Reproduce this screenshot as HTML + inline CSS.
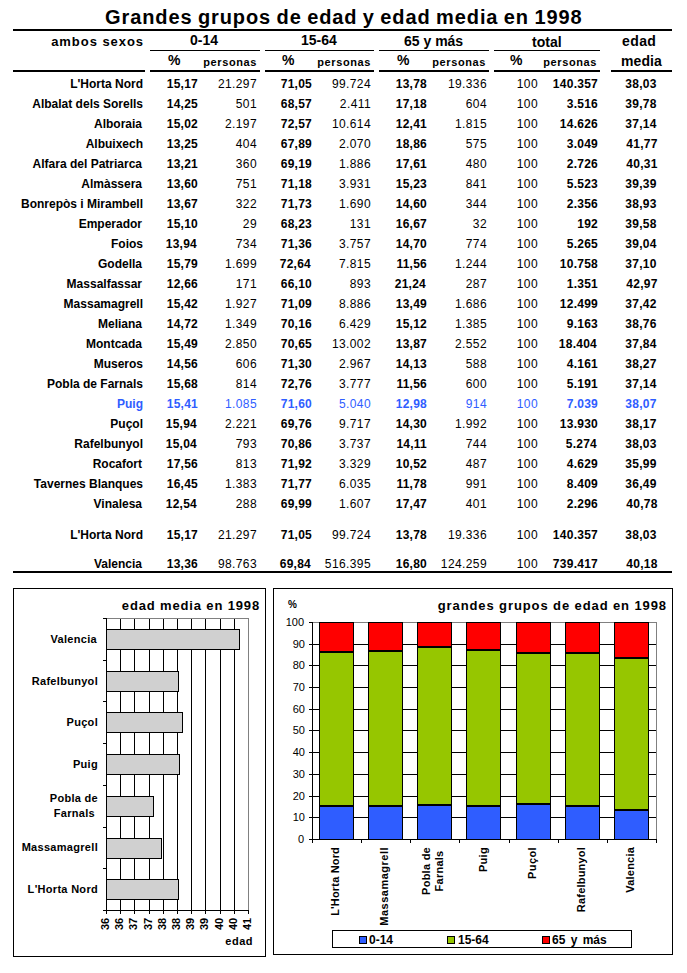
<!DOCTYPE html>
<html><head><meta charset="utf-8">
<style>
html,body{margin:0;padding:0;background:#fff;}
body{width:687px;height:973px;position:relative;overflow:hidden;font-family:"Liberation Sans",sans-serif;color:#000;}
.t{position:absolute;white-space:nowrap;line-height:12px;font-size:12px;}
.b{font-weight:bold;}
.n{font-weight:normal;}
.ln{position:absolute;background:#000;}
.blue{color:#2f5dff;}
.bx{position:absolute;box-sizing:border-box;border:1px solid #000;}
.rot{position:absolute;white-space:nowrap;transform-origin:0 0;transform:rotate(-90deg);font-weight:bold;font-size:11px;line-height:11px;}
</style></head><body>

<div id="e0" class="t b" style="left:105px;top:7px;font-size:20px;line-height:20px;letter-spacing:0.9px;word-spacing:-1px;">Grandes grupos de edad y edad media en 1998</div>
<div class="ln" style="left:13px;width:659px;top:29px;height:2px;background:#000;"></div>
<div class="ln" style="left:150px;width:110px;top:50px;height:1px;background:#000;"></div>
<div class="ln" style="left:265px;width:109px;top:50px;height:1px;background:#000;"></div>
<div class="ln" style="left:379px;width:110px;top:50px;height:1px;background:#000;"></div>
<div class="ln" style="left:494px;width:106px;top:50px;height:1px;background:#000;"></div>
<div class="ln" style="left:13px;width:132px;top:70px;height:2px;background:#000;"></div>
<div class="ln" style="left:150px;width:110px;top:70px;height:2px;background:#000;"></div>
<div class="ln" style="left:265px;width:109px;top:70px;height:2px;background:#000;"></div>
<div class="ln" style="left:379px;width:110px;top:70px;height:2px;background:#000;"></div>
<div class="ln" style="left:494px;width:106px;top:70px;height:2px;background:#000;"></div>
<div class="ln" style="left:611px;width:61px;top:70px;height:2px;background:#000;"></div>
<div class="ln" style="left:13px;width:659px;top:571px;height:2px;background:#000;"></div>
<div id="e1" class="t b" style="right:543px;top:35px;font-size:13px;line-height:13px;letter-spacing:0.95px;">ambos sexos</div>
<div id="e2" class="t b" style="left:190px;top:33px;font-size:14px;line-height:14px;">0-14</div>
<div id="e3" class="t b" style="left:301px;top:33px;font-size:14px;line-height:14px;">15-64</div>
<div id="e4" class="t b" style="left:404px;top:34px;font-size:14px;line-height:14px;">65 y más</div>
<div id="e5" class="t b" style="left:532px;top:35px;font-size:14px;line-height:14px;">total</div>
<div id="e6" class="t b" style="left:622px;top:34px;font-size:14px;line-height:14px;letter-spacing:0.4px;">edad</div>
<div id="e7" class="t b" style="left:621px;top:54px;font-size:14px;line-height:14px;letter-spacing:0.1px;">media</div>
<div id="e8" class="t b" style="left:168px;top:53px;font-size:14px;line-height:14px;">%</div>
<div id="e9" class="t b" style="right:430px;top:57px;font-size:11px;line-height:11px;letter-spacing:0.6px;">personas</div>
<div id="e10" class="t b" style="left:282px;top:53px;font-size:14px;line-height:14px;">%</div>
<div id="e11" class="t b" style="right:316px;top:57px;font-size:11px;line-height:11px;letter-spacing:0.6px;">personas</div>
<div id="e12" class="t b" style="left:397px;top:53px;font-size:14px;line-height:14px;">%</div>
<div id="e13" class="t b" style="right:201px;top:57px;font-size:11px;line-height:11px;letter-spacing:0.6px;">personas</div>
<div id="e14" class="t b" style="left:510px;top:53px;font-size:14px;line-height:14px;">%</div>
<div id="e15" class="t b" style="right:90px;top:57px;font-size:11px;line-height:11px;letter-spacing:0.6px;">personas</div>
<div id="e16" class="t b" style="right:544px;top:78px;font-size:12px;line-height:12px;">L'Horta Nord</div>
<div id="e17" class="t b" style="right:489px;top:78px;font-size:12px;line-height:12px;letter-spacing:0.25px;">15,17</div>
<div id="e18" class="t n" style="right:430px;top:78px;font-size:12px;line-height:12px;letter-spacing:0.4px;">21.297</div>
<div id="e19" class="t b" style="right:375px;top:78px;font-size:12px;line-height:12px;letter-spacing:0.25px;">71,05</div>
<div id="e20" class="t n" style="right:316px;top:78px;font-size:12px;line-height:12px;letter-spacing:0.4px;">99.724</div>
<div id="e21" class="t b" style="right:260px;top:78px;font-size:12px;line-height:12px;letter-spacing:0.25px;">13,78</div>
<div id="e22" class="t n" style="right:200px;top:78px;font-size:12px;line-height:12px;letter-spacing:0.4px;">19.336</div>
<div id="e23" class="t n" style="right:149px;top:78px;font-size:12px;line-height:12px;letter-spacing:0.4px;">100</div>
<div id="e24" class="t b" style="right:89px;top:78px;font-size:12px;line-height:12px;letter-spacing:0.25px;">140.357</div>
<div id="e25" class="t b" style="left:491px;width:300px;text-align:center;top:78px;font-size:12px;line-height:12px;letter-spacing:0.25px;">38,03</div>
<div id="e26" class="t b" style="right:544px;top:98px;font-size:12px;line-height:12px;">Albalat dels Sorells</div>
<div id="e27" class="t b" style="right:489px;top:98px;font-size:12px;line-height:12px;letter-spacing:0.25px;">14,25</div>
<div id="e28" class="t n" style="right:430px;top:98px;font-size:12px;line-height:12px;letter-spacing:0.4px;">501</div>
<div id="e29" class="t b" style="right:375px;top:98px;font-size:12px;line-height:12px;letter-spacing:0.25px;">68,57</div>
<div id="e30" class="t n" style="right:316px;top:98px;font-size:12px;line-height:12px;letter-spacing:0.4px;">2.411</div>
<div id="e31" class="t b" style="right:260px;top:98px;font-size:12px;line-height:12px;letter-spacing:0.25px;">17,18</div>
<div id="e32" class="t n" style="right:200px;top:98px;font-size:12px;line-height:12px;letter-spacing:0.4px;">604</div>
<div id="e33" class="t n" style="right:149px;top:98px;font-size:12px;line-height:12px;letter-spacing:0.4px;">100</div>
<div id="e34" class="t b" style="right:89px;top:98px;font-size:12px;line-height:12px;letter-spacing:0.25px;">3.516</div>
<div id="e35" class="t b" style="left:491px;width:300px;text-align:center;top:98px;font-size:12px;line-height:12px;letter-spacing:0.25px;">39,78</div>
<div id="e36" class="t b" style="right:545px;top:118px;font-size:12px;line-height:12px;">Alboraia</div>
<div id="e37" class="t b" style="right:489px;top:118px;font-size:12px;line-height:12px;letter-spacing:0.25px;">15,02</div>
<div id="e38" class="t n" style="right:430px;top:118px;font-size:12px;line-height:12px;letter-spacing:0.4px;">2.197</div>
<div id="e39" class="t b" style="right:375px;top:118px;font-size:12px;line-height:12px;letter-spacing:0.25px;">72,57</div>
<div id="e40" class="t n" style="right:316px;top:118px;font-size:12px;line-height:12px;letter-spacing:0.4px;">10.614</div>
<div id="e41" class="t b" style="right:260px;top:118px;font-size:12px;line-height:12px;letter-spacing:0.25px;">12,41</div>
<div id="e42" class="t n" style="right:200px;top:118px;font-size:12px;line-height:12px;letter-spacing:0.4px;">1.815</div>
<div id="e43" class="t n" style="right:149px;top:118px;font-size:12px;line-height:12px;letter-spacing:0.4px;">100</div>
<div id="e44" class="t b" style="right:89px;top:118px;font-size:12px;line-height:12px;letter-spacing:0.25px;">14.626</div>
<div id="e45" class="t b" style="left:491px;width:300px;text-align:center;top:118px;font-size:12px;line-height:12px;letter-spacing:0.25px;">37,14</div>
<div id="e46" class="t b" style="right:544px;top:138px;font-size:12px;line-height:12px;">Albuixech</div>
<div id="e47" class="t b" style="right:489px;top:138px;font-size:12px;line-height:12px;letter-spacing:0.25px;">13,25</div>
<div id="e48" class="t n" style="right:430px;top:138px;font-size:12px;line-height:12px;letter-spacing:0.4px;">404</div>
<div id="e49" class="t b" style="right:375px;top:138px;font-size:12px;line-height:12px;letter-spacing:0.25px;">67,89</div>
<div id="e50" class="t n" style="right:316px;top:138px;font-size:12px;line-height:12px;letter-spacing:0.4px;">2.070</div>
<div id="e51" class="t b" style="right:260px;top:138px;font-size:12px;line-height:12px;letter-spacing:0.25px;">18,86</div>
<div id="e52" class="t n" style="right:200px;top:138px;font-size:12px;line-height:12px;letter-spacing:0.4px;">575</div>
<div id="e53" class="t n" style="right:149px;top:138px;font-size:12px;line-height:12px;letter-spacing:0.4px;">100</div>
<div id="e54" class="t b" style="right:89px;top:138px;font-size:12px;line-height:12px;letter-spacing:0.25px;">3.049</div>
<div id="e55" class="t b" style="left:492px;width:300px;text-align:center;top:138px;font-size:12px;line-height:12px;letter-spacing:0.25px;">41,77</div>
<div id="e56" class="t b" style="right:545px;top:158px;font-size:12px;line-height:12px;">Alfara del Patriarca</div>
<div id="e57" class="t b" style="right:489px;top:158px;font-size:12px;line-height:12px;letter-spacing:0.25px;">13,21</div>
<div id="e58" class="t n" style="right:430px;top:158px;font-size:12px;line-height:12px;letter-spacing:0.4px;">360</div>
<div id="e59" class="t b" style="right:375px;top:158px;font-size:12px;line-height:12px;letter-spacing:0.25px;">69,19</div>
<div id="e60" class="t n" style="right:316px;top:158px;font-size:12px;line-height:12px;letter-spacing:0.4px;">1.886</div>
<div id="e61" class="t b" style="right:260px;top:158px;font-size:12px;line-height:12px;letter-spacing:0.25px;">17,61</div>
<div id="e62" class="t n" style="right:200px;top:158px;font-size:12px;line-height:12px;letter-spacing:0.4px;">480</div>
<div id="e63" class="t n" style="right:149px;top:158px;font-size:12px;line-height:12px;letter-spacing:0.4px;">100</div>
<div id="e64" class="t b" style="right:89px;top:158px;font-size:12px;line-height:12px;letter-spacing:0.25px;">2.726</div>
<div id="e65" class="t b" style="left:492px;width:300px;text-align:center;top:158px;font-size:12px;line-height:12px;letter-spacing:0.25px;">40,31</div>
<div id="e66" class="t b" style="right:545px;top:178px;font-size:12px;line-height:12px;">Almàssera</div>
<div id="e67" class="t b" style="right:489px;top:178px;font-size:12px;line-height:12px;letter-spacing:0.25px;">13,60</div>
<div id="e68" class="t n" style="right:430px;top:178px;font-size:12px;line-height:12px;letter-spacing:0.4px;">751</div>
<div id="e69" class="t b" style="right:375px;top:178px;font-size:12px;line-height:12px;letter-spacing:0.25px;">71,18</div>
<div id="e70" class="t n" style="right:316px;top:178px;font-size:12px;line-height:12px;letter-spacing:0.4px;">3.931</div>
<div id="e71" class="t b" style="right:260px;top:178px;font-size:12px;line-height:12px;letter-spacing:0.25px;">15,23</div>
<div id="e72" class="t n" style="right:200px;top:178px;font-size:12px;line-height:12px;letter-spacing:0.4px;">841</div>
<div id="e73" class="t n" style="right:149px;top:178px;font-size:12px;line-height:12px;letter-spacing:0.4px;">100</div>
<div id="e74" class="t b" style="right:89px;top:178px;font-size:12px;line-height:12px;letter-spacing:0.25px;">5.523</div>
<div id="e75" class="t b" style="left:491px;width:300px;text-align:center;top:178px;font-size:12px;line-height:12px;letter-spacing:0.25px;">39,39</div>
<div id="e76" class="t b" style="right:544px;top:198px;font-size:12px;line-height:12px;">Bonrepòs i Mirambell</div>
<div id="e77" class="t b" style="right:489px;top:198px;font-size:12px;line-height:12px;letter-spacing:0.25px;">13,67</div>
<div id="e78" class="t n" style="right:430px;top:198px;font-size:12px;line-height:12px;letter-spacing:0.4px;">322</div>
<div id="e79" class="t b" style="right:375px;top:198px;font-size:12px;line-height:12px;letter-spacing:0.25px;">71,73</div>
<div id="e80" class="t n" style="right:316px;top:198px;font-size:12px;line-height:12px;letter-spacing:0.4px;">1.690</div>
<div id="e81" class="t b" style="right:260px;top:198px;font-size:12px;line-height:12px;letter-spacing:0.25px;">14,60</div>
<div id="e82" class="t n" style="right:200px;top:198px;font-size:12px;line-height:12px;letter-spacing:0.4px;">344</div>
<div id="e83" class="t n" style="right:149px;top:198px;font-size:12px;line-height:12px;letter-spacing:0.4px;">100</div>
<div id="e84" class="t b" style="right:89px;top:198px;font-size:12px;line-height:12px;letter-spacing:0.25px;">2.356</div>
<div id="e85" class="t b" style="left:491px;width:300px;text-align:center;top:198px;font-size:12px;line-height:12px;letter-spacing:0.25px;">38,93</div>
<div id="e86" class="t b" style="right:545px;top:218px;font-size:12px;line-height:12px;">Emperador</div>
<div id="e87" class="t b" style="right:489px;top:218px;font-size:12px;line-height:12px;letter-spacing:0.25px;">15,10</div>
<div id="e88" class="t n" style="right:430px;top:218px;font-size:12px;line-height:12px;letter-spacing:0.4px;">29</div>
<div id="e89" class="t b" style="right:375px;top:218px;font-size:12px;line-height:12px;letter-spacing:0.25px;">68,23</div>
<div id="e90" class="t n" style="right:316px;top:218px;font-size:12px;line-height:12px;letter-spacing:0.4px;">131</div>
<div id="e91" class="t b" style="right:260px;top:218px;font-size:12px;line-height:12px;letter-spacing:0.25px;">16,67</div>
<div id="e92" class="t n" style="right:200px;top:218px;font-size:12px;line-height:12px;letter-spacing:0.4px;">32</div>
<div id="e93" class="t n" style="right:149px;top:218px;font-size:12px;line-height:12px;letter-spacing:0.4px;">100</div>
<div id="e94" class="t b" style="right:89px;top:218px;font-size:12px;line-height:12px;letter-spacing:0.25px;">192</div>
<div id="e95" class="t b" style="left:491px;width:300px;text-align:center;top:218px;font-size:12px;line-height:12px;letter-spacing:0.25px;">39,58</div>
<div id="e96" class="t b" style="right:544px;top:238px;font-size:12px;line-height:12px;">Foios</div>
<div id="e97" class="t b" style="right:490px;top:238px;font-size:12px;line-height:12px;letter-spacing:0.25px;">13,94</div>
<div id="e98" class="t n" style="right:430px;top:238px;font-size:12px;line-height:12px;letter-spacing:0.4px;">734</div>
<div id="e99" class="t b" style="right:375px;top:238px;font-size:12px;line-height:12px;letter-spacing:0.25px;">71,36</div>
<div id="e100" class="t n" style="right:316px;top:238px;font-size:12px;line-height:12px;letter-spacing:0.4px;">3.757</div>
<div id="e101" class="t b" style="right:260px;top:238px;font-size:12px;line-height:12px;letter-spacing:0.25px;">14,70</div>
<div id="e102" class="t n" style="right:200px;top:238px;font-size:12px;line-height:12px;letter-spacing:0.4px;">774</div>
<div id="e103" class="t n" style="right:149px;top:238px;font-size:12px;line-height:12px;letter-spacing:0.4px;">100</div>
<div id="e104" class="t b" style="right:89px;top:238px;font-size:12px;line-height:12px;letter-spacing:0.25px;">5.265</div>
<div id="e105" class="t b" style="left:491px;width:300px;text-align:center;top:238px;font-size:12px;line-height:12px;letter-spacing:0.25px;">39,04</div>
<div id="e106" class="t b" style="right:545px;top:258px;font-size:12px;line-height:12px;">Godella</div>
<div id="e107" class="t b" style="right:489px;top:258px;font-size:12px;line-height:12px;letter-spacing:0.25px;">15,79</div>
<div id="e108" class="t n" style="right:430px;top:258px;font-size:12px;line-height:12px;letter-spacing:0.4px;">1.699</div>
<div id="e109" class="t b" style="right:376px;top:258px;font-size:12px;line-height:12px;letter-spacing:0.25px;">72,64</div>
<div id="e110" class="t n" style="right:316px;top:258px;font-size:12px;line-height:12px;letter-spacing:0.4px;">7.815</div>
<div id="e111" class="t b" style="right:260px;top:258px;font-size:12px;line-height:12px;letter-spacing:0.25px;">11,56</div>
<div id="e112" class="t n" style="right:200px;top:258px;font-size:12px;line-height:12px;letter-spacing:0.4px;">1.244</div>
<div id="e113" class="t n" style="right:149px;top:258px;font-size:12px;line-height:12px;letter-spacing:0.4px;">100</div>
<div id="e114" class="t b" style="right:89px;top:258px;font-size:12px;line-height:12px;letter-spacing:0.25px;">10.758</div>
<div id="e115" class="t b" style="left:491px;width:300px;text-align:center;top:258px;font-size:12px;line-height:12px;letter-spacing:0.25px;">37,10</div>
<div id="e116" class="t b" style="right:545px;top:278px;font-size:12px;line-height:12px;">Massalfassar</div>
<div id="e117" class="t b" style="right:489px;top:278px;font-size:12px;line-height:12px;letter-spacing:0.25px;">12,66</div>
<div id="e118" class="t n" style="right:430px;top:278px;font-size:12px;line-height:12px;letter-spacing:0.4px;">171</div>
<div id="e119" class="t b" style="right:375px;top:278px;font-size:12px;line-height:12px;letter-spacing:0.25px;">66,10</div>
<div id="e120" class="t n" style="right:316px;top:278px;font-size:12px;line-height:12px;letter-spacing:0.4px;">893</div>
<div id="e121" class="t b" style="right:261px;top:278px;font-size:12px;line-height:12px;letter-spacing:0.25px;">21,24</div>
<div id="e122" class="t n" style="right:200px;top:278px;font-size:12px;line-height:12px;letter-spacing:0.4px;">287</div>
<div id="e123" class="t n" style="right:149px;top:278px;font-size:12px;line-height:12px;letter-spacing:0.4px;">100</div>
<div id="e124" class="t b" style="right:89px;top:278px;font-size:12px;line-height:12px;letter-spacing:0.25px;">1.351</div>
<div id="e125" class="t b" style="left:492px;width:300px;text-align:center;top:278px;font-size:12px;line-height:12px;letter-spacing:0.25px;">42,97</div>
<div id="e126" class="t b" style="right:544px;top:298px;font-size:12px;line-height:12px;">Massamagrell</div>
<div id="e127" class="t b" style="right:489px;top:298px;font-size:12px;line-height:12px;letter-spacing:0.25px;">15,42</div>
<div id="e128" class="t n" style="right:430px;top:298px;font-size:12px;line-height:12px;letter-spacing:0.4px;">1.927</div>
<div id="e129" class="t b" style="right:375px;top:298px;font-size:12px;line-height:12px;letter-spacing:0.25px;">71,09</div>
<div id="e130" class="t n" style="right:316px;top:298px;font-size:12px;line-height:12px;letter-spacing:0.4px;">8.886</div>
<div id="e131" class="t b" style="right:260px;top:298px;font-size:12px;line-height:12px;letter-spacing:0.25px;">13,49</div>
<div id="e132" class="t n" style="right:200px;top:298px;font-size:12px;line-height:12px;letter-spacing:0.4px;">1.686</div>
<div id="e133" class="t n" style="right:149px;top:298px;font-size:12px;line-height:12px;letter-spacing:0.4px;">100</div>
<div id="e134" class="t b" style="right:89px;top:298px;font-size:12px;line-height:12px;letter-spacing:0.25px;">12.499</div>
<div id="e135" class="t b" style="left:491px;width:300px;text-align:center;top:298px;font-size:12px;line-height:12px;letter-spacing:0.25px;">37,42</div>
<div id="e136" class="t b" style="right:545px;top:318px;font-size:12px;line-height:12px;">Meliana</div>
<div id="e137" class="t b" style="right:489px;top:318px;font-size:12px;line-height:12px;letter-spacing:0.25px;">14,72</div>
<div id="e138" class="t n" style="right:430px;top:318px;font-size:12px;line-height:12px;letter-spacing:0.4px;">1.349</div>
<div id="e139" class="t b" style="right:375px;top:318px;font-size:12px;line-height:12px;letter-spacing:0.25px;">70,16</div>
<div id="e140" class="t n" style="right:316px;top:318px;font-size:12px;line-height:12px;letter-spacing:0.4px;">6.429</div>
<div id="e141" class="t b" style="right:260px;top:318px;font-size:12px;line-height:12px;letter-spacing:0.25px;">15,12</div>
<div id="e142" class="t n" style="right:200px;top:318px;font-size:12px;line-height:12px;letter-spacing:0.4px;">1.385</div>
<div id="e143" class="t n" style="right:149px;top:318px;font-size:12px;line-height:12px;letter-spacing:0.4px;">100</div>
<div id="e144" class="t b" style="right:89px;top:318px;font-size:12px;line-height:12px;letter-spacing:0.25px;">9.163</div>
<div id="e145" class="t b" style="left:491px;width:300px;text-align:center;top:318px;font-size:12px;line-height:12px;letter-spacing:0.25px;">38,76</div>
<div id="e146" class="t b" style="right:545px;top:338px;font-size:12px;line-height:12px;">Montcada</div>
<div id="e147" class="t b" style="right:489px;top:338px;font-size:12px;line-height:12px;letter-spacing:0.25px;">15,49</div>
<div id="e148" class="t n" style="right:430px;top:338px;font-size:12px;line-height:12px;letter-spacing:0.4px;">2.850</div>
<div id="e149" class="t b" style="right:375px;top:338px;font-size:12px;line-height:12px;letter-spacing:0.25px;">70,65</div>
<div id="e150" class="t n" style="right:316px;top:338px;font-size:12px;line-height:12px;letter-spacing:0.4px;">13.002</div>
<div id="e151" class="t b" style="right:260px;top:338px;font-size:12px;line-height:12px;letter-spacing:0.25px;">13,87</div>
<div id="e152" class="t n" style="right:200px;top:338px;font-size:12px;line-height:12px;letter-spacing:0.4px;">2.552</div>
<div id="e153" class="t n" style="right:149px;top:338px;font-size:12px;line-height:12px;letter-spacing:0.4px;">100</div>
<div id="e154" class="t b" style="right:90px;top:338px;font-size:12px;line-height:12px;letter-spacing:0.25px;">18.404</div>
<div id="e155" class="t b" style="left:491px;width:300px;text-align:center;top:338px;font-size:12px;line-height:12px;letter-spacing:0.25px;">37,84</div>
<div id="e156" class="t b" style="right:544px;top:358px;font-size:12px;line-height:12px;">Museros</div>
<div id="e157" class="t b" style="right:489px;top:358px;font-size:12px;line-height:12px;letter-spacing:0.25px;">14,56</div>
<div id="e158" class="t n" style="right:430px;top:358px;font-size:12px;line-height:12px;letter-spacing:0.4px;">606</div>
<div id="e159" class="t b" style="right:375px;top:358px;font-size:12px;line-height:12px;letter-spacing:0.25px;">71,30</div>
<div id="e160" class="t n" style="right:316px;top:358px;font-size:12px;line-height:12px;letter-spacing:0.4px;">2.967</div>
<div id="e161" class="t b" style="right:260px;top:358px;font-size:12px;line-height:12px;letter-spacing:0.25px;">14,13</div>
<div id="e162" class="t n" style="right:200px;top:358px;font-size:12px;line-height:12px;letter-spacing:0.4px;">588</div>
<div id="e163" class="t n" style="right:149px;top:358px;font-size:12px;line-height:12px;letter-spacing:0.4px;">100</div>
<div id="e164" class="t b" style="right:89px;top:358px;font-size:12px;line-height:12px;letter-spacing:0.25px;">4.161</div>
<div id="e165" class="t b" style="left:491px;width:300px;text-align:center;top:358px;font-size:12px;line-height:12px;letter-spacing:0.25px;">38,27</div>
<div id="e166" class="t b" style="right:544px;top:378px;font-size:12px;line-height:12px;">Pobla de Farnals</div>
<div id="e167" class="t b" style="right:489px;top:378px;font-size:12px;line-height:12px;letter-spacing:0.25px;">15,68</div>
<div id="e168" class="t n" style="right:430px;top:378px;font-size:12px;line-height:12px;letter-spacing:0.4px;">814</div>
<div id="e169" class="t b" style="right:375px;top:378px;font-size:12px;line-height:12px;letter-spacing:0.25px;">72,76</div>
<div id="e170" class="t n" style="right:316px;top:378px;font-size:12px;line-height:12px;letter-spacing:0.4px;">3.777</div>
<div id="e171" class="t b" style="right:260px;top:378px;font-size:12px;line-height:12px;letter-spacing:0.25px;">11,56</div>
<div id="e172" class="t n" style="right:200px;top:378px;font-size:12px;line-height:12px;letter-spacing:0.4px;">600</div>
<div id="e173" class="t n" style="right:149px;top:378px;font-size:12px;line-height:12px;letter-spacing:0.4px;">100</div>
<div id="e174" class="t b" style="right:89px;top:378px;font-size:12px;line-height:12px;letter-spacing:0.25px;">5.191</div>
<div id="e175" class="t b" style="left:491px;width:300px;text-align:center;top:378px;font-size:12px;line-height:12px;letter-spacing:0.25px;">37,14</div>
<div id="e176" class="t b blue" style="right:544px;top:398px;font-size:12px;line-height:12px;">Puig</div>
<div id="e177" class="t b blue" style="right:489px;top:398px;font-size:12px;line-height:12px;letter-spacing:0.25px;">15,41</div>
<div id="e178" class="t n blue" style="right:430px;top:398px;font-size:12px;line-height:12px;letter-spacing:0.4px;">1.085</div>
<div id="e179" class="t b blue" style="right:375px;top:398px;font-size:12px;line-height:12px;letter-spacing:0.25px;">71,60</div>
<div id="e180" class="t n blue" style="right:316px;top:398px;font-size:12px;line-height:12px;letter-spacing:0.4px;">5.040</div>
<div id="e181" class="t b blue" style="right:260px;top:398px;font-size:12px;line-height:12px;letter-spacing:0.25px;">12,98</div>
<div id="e182" class="t n blue" style="right:200px;top:398px;font-size:12px;line-height:12px;letter-spacing:0.4px;">914</div>
<div id="e183" class="t n blue" style="right:149px;top:398px;font-size:12px;line-height:12px;letter-spacing:0.4px;">100</div>
<div id="e184" class="t b blue" style="right:89px;top:398px;font-size:12px;line-height:12px;letter-spacing:0.25px;">7.039</div>
<div id="e185" class="t b blue" style="left:491px;width:300px;text-align:center;top:398px;font-size:12px;line-height:12px;letter-spacing:0.25px;">38,07</div>
<div id="e186" class="t b" style="right:544px;top:418px;font-size:12px;line-height:12px;">Puçol</div>
<div id="e187" class="t b" style="right:490px;top:418px;font-size:12px;line-height:12px;letter-spacing:0.25px;">15,94</div>
<div id="e188" class="t n" style="right:430px;top:418px;font-size:12px;line-height:12px;letter-spacing:0.4px;">2.221</div>
<div id="e189" class="t b" style="right:375px;top:418px;font-size:12px;line-height:12px;letter-spacing:0.25px;">69,76</div>
<div id="e190" class="t n" style="right:316px;top:418px;font-size:12px;line-height:12px;letter-spacing:0.4px;">9.717</div>
<div id="e191" class="t b" style="right:260px;top:418px;font-size:12px;line-height:12px;letter-spacing:0.25px;">14,30</div>
<div id="e192" class="t n" style="right:200px;top:418px;font-size:12px;line-height:12px;letter-spacing:0.4px;">1.992</div>
<div id="e193" class="t n" style="right:149px;top:418px;font-size:12px;line-height:12px;letter-spacing:0.4px;">100</div>
<div id="e194" class="t b" style="right:89px;top:418px;font-size:12px;line-height:12px;letter-spacing:0.25px;">13.930</div>
<div id="e195" class="t b" style="left:491px;width:300px;text-align:center;top:418px;font-size:12px;line-height:12px;letter-spacing:0.25px;">38,17</div>
<div id="e196" class="t b" style="right:544px;top:438px;font-size:12px;line-height:12px;">Rafelbunyol</div>
<div id="e197" class="t b" style="right:490px;top:438px;font-size:12px;line-height:12px;letter-spacing:0.25px;">15,04</div>
<div id="e198" class="t n" style="right:430px;top:438px;font-size:12px;line-height:12px;letter-spacing:0.4px;">793</div>
<div id="e199" class="t b" style="right:375px;top:438px;font-size:12px;line-height:12px;letter-spacing:0.25px;">70,86</div>
<div id="e200" class="t n" style="right:316px;top:438px;font-size:12px;line-height:12px;letter-spacing:0.4px;">3.737</div>
<div id="e201" class="t b" style="right:260px;top:438px;font-size:12px;line-height:12px;letter-spacing:0.25px;">14,11</div>
<div id="e202" class="t n" style="right:200px;top:438px;font-size:12px;line-height:12px;letter-spacing:0.4px;">744</div>
<div id="e203" class="t n" style="right:149px;top:438px;font-size:12px;line-height:12px;letter-spacing:0.4px;">100</div>
<div id="e204" class="t b" style="right:90px;top:438px;font-size:12px;line-height:12px;letter-spacing:0.25px;">5.274</div>
<div id="e205" class="t b" style="left:491px;width:300px;text-align:center;top:438px;font-size:12px;line-height:12px;letter-spacing:0.25px;">38,03</div>
<div id="e206" class="t b" style="right:545px;top:458px;font-size:12px;line-height:12px;">Rocafort</div>
<div id="e207" class="t b" style="right:489px;top:458px;font-size:12px;line-height:12px;letter-spacing:0.25px;">17,56</div>
<div id="e208" class="t n" style="right:430px;top:458px;font-size:12px;line-height:12px;letter-spacing:0.4px;">813</div>
<div id="e209" class="t b" style="right:375px;top:458px;font-size:12px;line-height:12px;letter-spacing:0.25px;">71,92</div>
<div id="e210" class="t n" style="right:316px;top:458px;font-size:12px;line-height:12px;letter-spacing:0.4px;">3.329</div>
<div id="e211" class="t b" style="right:260px;top:458px;font-size:12px;line-height:12px;letter-spacing:0.25px;">10,52</div>
<div id="e212" class="t n" style="right:200px;top:458px;font-size:12px;line-height:12px;letter-spacing:0.4px;">487</div>
<div id="e213" class="t n" style="right:149px;top:458px;font-size:12px;line-height:12px;letter-spacing:0.4px;">100</div>
<div id="e214" class="t b" style="right:89px;top:458px;font-size:12px;line-height:12px;letter-spacing:0.25px;">4.629</div>
<div id="e215" class="t b" style="left:491px;width:300px;text-align:center;top:458px;font-size:12px;line-height:12px;letter-spacing:0.25px;">35,99</div>
<div id="e216" class="t b" style="right:544px;top:478px;font-size:12px;line-height:12px;">Tavernes Blanques</div>
<div id="e217" class="t b" style="right:489px;top:478px;font-size:12px;line-height:12px;letter-spacing:0.25px;">16,45</div>
<div id="e218" class="t n" style="right:430px;top:478px;font-size:12px;line-height:12px;letter-spacing:0.4px;">1.383</div>
<div id="e219" class="t b" style="right:375px;top:478px;font-size:12px;line-height:12px;letter-spacing:0.25px;">71,77</div>
<div id="e220" class="t n" style="right:316px;top:478px;font-size:12px;line-height:12px;letter-spacing:0.4px;">6.035</div>
<div id="e221" class="t b" style="right:260px;top:478px;font-size:12px;line-height:12px;letter-spacing:0.25px;">11,78</div>
<div id="e222" class="t n" style="right:200px;top:478px;font-size:12px;line-height:12px;letter-spacing:0.4px;">991</div>
<div id="e223" class="t n" style="right:149px;top:478px;font-size:12px;line-height:12px;letter-spacing:0.4px;">100</div>
<div id="e224" class="t b" style="right:89px;top:478px;font-size:12px;line-height:12px;letter-spacing:0.25px;">8.409</div>
<div id="e225" class="t b" style="left:491px;width:300px;text-align:center;top:478px;font-size:12px;line-height:12px;letter-spacing:0.25px;">36,49</div>
<div id="e226" class="t b" style="right:545px;top:498px;font-size:12px;line-height:12px;">Vinalesa</div>
<div id="e227" class="t b" style="right:490px;top:498px;font-size:12px;line-height:12px;letter-spacing:0.25px;">12,54</div>
<div id="e228" class="t n" style="right:430px;top:498px;font-size:12px;line-height:12px;letter-spacing:0.4px;">288</div>
<div id="e229" class="t b" style="right:375px;top:498px;font-size:12px;line-height:12px;letter-spacing:0.25px;">69,99</div>
<div id="e230" class="t n" style="right:316px;top:498px;font-size:12px;line-height:12px;letter-spacing:0.4px;">1.607</div>
<div id="e231" class="t b" style="right:260px;top:498px;font-size:12px;line-height:12px;letter-spacing:0.25px;">17,47</div>
<div id="e232" class="t n" style="right:200px;top:498px;font-size:12px;line-height:12px;letter-spacing:0.4px;">401</div>
<div id="e233" class="t n" style="right:149px;top:498px;font-size:12px;line-height:12px;letter-spacing:0.4px;">100</div>
<div id="e234" class="t b" style="right:89px;top:498px;font-size:12px;line-height:12px;letter-spacing:0.25px;">2.296</div>
<div id="e235" class="t b" style="left:492px;width:300px;text-align:center;top:498px;font-size:12px;line-height:12px;letter-spacing:0.25px;">40,78</div>
<div id="e236" class="t b" style="right:544px;top:529px;font-size:12px;line-height:12px;">L'Horta Nord</div>
<div id="e237" class="t b" style="right:489px;top:529px;font-size:12px;line-height:12px;letter-spacing:0.25px;">15,17</div>
<div id="e238" class="t n" style="right:430px;top:529px;font-size:12px;line-height:12px;letter-spacing:0.4px;">21.297</div>
<div id="e239" class="t b" style="right:375px;top:529px;font-size:12px;line-height:12px;letter-spacing:0.25px;">71,05</div>
<div id="e240" class="t n" style="right:316px;top:529px;font-size:12px;line-height:12px;letter-spacing:0.4px;">99.724</div>
<div id="e241" class="t b" style="right:260px;top:529px;font-size:12px;line-height:12px;letter-spacing:0.25px;">13,78</div>
<div id="e242" class="t n" style="right:200px;top:529px;font-size:12px;line-height:12px;letter-spacing:0.4px;">19.336</div>
<div id="e243" class="t n" style="right:149px;top:529px;font-size:12px;line-height:12px;letter-spacing:0.4px;">100</div>
<div id="e244" class="t b" style="right:89px;top:529px;font-size:12px;line-height:12px;letter-spacing:0.25px;">140.357</div>
<div id="e245" class="t b" style="left:491px;width:300px;text-align:center;top:529px;font-size:12px;line-height:12px;letter-spacing:0.25px;">38,03</div>
<div id="e246" class="t b" style="right:545px;top:558px;font-size:12px;line-height:12px;">Valencia</div>
<div id="e247" class="t b" style="right:489px;top:558px;font-size:12px;line-height:12px;letter-spacing:0.25px;">13,36</div>
<div id="e248" class="t n" style="right:430px;top:558px;font-size:12px;line-height:12px;letter-spacing:0.4px;">98.763</div>
<div id="e249" class="t b" style="right:376px;top:558px;font-size:12px;line-height:12px;letter-spacing:0.25px;">69,84</div>
<div id="e250" class="t n" style="right:316px;top:558px;font-size:12px;line-height:12px;letter-spacing:0.4px;">516.395</div>
<div id="e251" class="t b" style="right:260px;top:558px;font-size:12px;line-height:12px;letter-spacing:0.25px;">16,80</div>
<div id="e252" class="t n" style="right:200px;top:558px;font-size:12px;line-height:12px;letter-spacing:0.4px;">124.259</div>
<div id="e253" class="t n" style="right:149px;top:558px;font-size:12px;line-height:12px;letter-spacing:0.4px;">100</div>
<div id="e254" class="t b" style="right:89px;top:558px;font-size:12px;line-height:12px;letter-spacing:0.25px;">739.417</div>
<div id="e255" class="t b" style="left:492px;width:300px;text-align:center;top:558px;font-size:12px;line-height:12px;letter-spacing:0.25px;">40,18</div>
<div class="bx" style="left:13px;top:588px;width:253px;height:369px;background:#fff;border-color:#000;"></div>
<div id="e256" class="t b" style="right:427px;top:599px;font-size:13px;line-height:13px;letter-spacing:0.85px;">edad media en 1998</div>
<div class="ln" style="left:106px;width:1px;top:618px;height:296px;background:#000;"></div>
<div class="ln" style="left:120px;width:1px;top:618px;height:296px;background:#000;"></div>
<div class="ln" style="left:134px;width:1px;top:618px;height:296px;background:#000;"></div>
<div class="ln" style="left:149px;width:1px;top:618px;height:296px;background:#000;"></div>
<div class="ln" style="left:163px;width:1px;top:618px;height:296px;background:#000;"></div>
<div class="ln" style="left:177px;width:1px;top:618px;height:296px;background:#000;"></div>
<div class="ln" style="left:191px;width:1px;top:618px;height:296px;background:#000;"></div>
<div class="ln" style="left:205px;width:1px;top:618px;height:296px;background:#000;"></div>
<div class="ln" style="left:220px;width:1px;top:618px;height:296px;background:#000;"></div>
<div class="ln" style="left:234px;width:1px;top:618px;height:296px;background:#000;"></div>
<div class="ln" style="left:248px;width:1px;top:618px;height:293px;background:#808080;"></div>
<div class="ln" style="left:248px;width:1px;top:910px;height:4px;background:#000;"></div>
<div class="ln" style="left:106px;width:143px;top:618px;height:1px;background:#808080;"></div>
<div class="ln" style="left:106px;width:143px;top:910px;height:1px;background:#000;"></div>
<div class="ln" style="left:103px;width:4px;top:618px;height:1px;background:#000;"></div>
<div class="ln" style="left:103px;width:4px;top:660px;height:1px;background:#000;"></div>
<div class="ln" style="left:103px;width:4px;top:701px;height:1px;background:#000;"></div>
<div class="ln" style="left:103px;width:4px;top:743px;height:1px;background:#000;"></div>
<div class="ln" style="left:103px;width:4px;top:785px;height:1px;background:#000;"></div>
<div class="ln" style="left:103px;width:4px;top:827px;height:1px;background:#000;"></div>
<div class="ln" style="left:103px;width:4px;top:868px;height:1px;background:#000;"></div>
<div class="ln" style="left:103px;width:4px;top:910px;height:1px;background:#000;"></div>
<div class="bx" style="left:106px;top:629px;width:134px;height:21px;background:#d0d0d0;border-color:#000;"></div>
<div class="bx" style="left:106px;top:671px;width:73px;height:21px;background:#d0d0d0;border-color:#000;"></div>
<div class="bx" style="left:106px;top:712px;width:77px;height:21px;background:#d0d0d0;border-color:#000;"></div>
<div class="bx" style="left:106px;top:754px;width:74px;height:21px;background:#d0d0d0;border-color:#000;"></div>
<div class="bx" style="left:106px;top:796px;width:48px;height:21px;background:#d0d0d0;border-color:#000;"></div>
<div class="bx" style="left:106px;top:838px;width:56px;height:21px;background:#d0d0d0;border-color:#000;"></div>
<div class="bx" style="left:106px;top:879px;width:73px;height:21px;background:#d0d0d0;border-color:#000;"></div>
<div id="e257" class="t b" style="right:590px;top:634px;font-size:11px;line-height:11px;letter-spacing:0.3px;">Valencia</div>
<div id="e258" class="t b" style="right:589px;top:676px;font-size:11px;line-height:11px;letter-spacing:0.3px;">Rafelbunyol</div>
<div id="e259" class="t b" style="right:589px;top:717px;font-size:11px;line-height:11px;letter-spacing:0.3px;">Puçol</div>
<div id="e260" class="t b" style="right:589px;top:759px;font-size:11px;line-height:11px;letter-spacing:0.3px;">Puig</div>
<div id="e261" class="t b" style="right:589px;top:793px;font-size:11px;line-height:11px;letter-spacing:0.3px;">Pobla de</div>
<div id="e262" class="t b" style="right:592px;top:808px;font-size:11px;line-height:11px;letter-spacing:0.3px;">Farnals</div>
<div id="e263" class="t b" style="right:589px;top:842px;font-size:11px;line-height:11px;letter-spacing:0.3px;">Massamagrell</div>
<div id="e264" class="t b" style="right:589px;top:884px;font-size:11px;line-height:11px;letter-spacing:0.3px;">L'Horta Nord</div>
<div id="e265" class="t b" style="right:434px;top:936px;font-size:11px;line-height:11px;letter-spacing:0.5px;">edad</div>
<div class="rot" style="left:100px;top:930px;font-weight:bold;">36</div>
<div class="rot" style="left:114px;top:930px;font-weight:bold;">36</div>
<div class="rot" style="left:128px;top:930px;font-weight:bold;">37</div>
<div class="rot" style="left:143px;top:930px;font-weight:bold;">37</div>
<div class="rot" style="left:157px;top:930px;font-weight:bold;">38</div>
<div class="rot" style="left:171px;top:930px;font-weight:bold;">38</div>
<div class="rot" style="left:185px;top:930px;font-weight:bold;">39</div>
<div class="rot" style="left:199px;top:930px;font-weight:bold;">39</div>
<div class="rot" style="left:214px;top:930px;font-weight:bold;">40</div>
<div class="rot" style="left:228px;top:930px;font-weight:bold;">40</div>
<div class="rot" style="left:242px;top:930px;font-weight:bold;">41</div>
<div class="bx" style="left:273px;top:588px;width:400px;height:367px;background:#fff;border-color:#000;"></div>
<div id="e266" class="t b" style="right:20px;top:599px;font-size:13px;line-height:13px;letter-spacing:0.9px;">grandes grupos de edad en 1998</div>
<div id="e267" class="t b" style="left:288px;top:600px;font-size:10px;line-height:10px;">%</div>
<div class="ln" style="left:309px;width:348px;top:817px;height:1px;background:#000;"></div>
<div class="ln" style="left:309px;width:348px;top:796px;height:1px;background:#000;"></div>
<div class="ln" style="left:309px;width:348px;top:774px;height:1px;background:#000;"></div>
<div class="ln" style="left:309px;width:348px;top:752px;height:1px;background:#000;"></div>
<div class="ln" style="left:309px;width:348px;top:730px;height:1px;background:#000;"></div>
<div class="ln" style="left:309px;width:348px;top:709px;height:1px;background:#000;"></div>
<div class="ln" style="left:309px;width:348px;top:687px;height:1px;background:#000;"></div>
<div class="ln" style="left:309px;width:348px;top:665px;height:1px;background:#000;"></div>
<div class="ln" style="left:309px;width:348px;top:644px;height:1px;background:#000;"></div>
<div class="ln" style="left:309px;width:4px;top:622px;height:1px;background:#000;"></div>
<div class="ln" style="left:312px;width:345px;top:622px;height:1px;background:#808080;"></div>
<div class="ln" style="left:656px;width:1px;top:622px;height:218px;background:#808080;"></div>
<div class="ln" style="left:309px;width:348px;top:839px;height:1px;background:#000;"></div>
<div class="ln" style="left:312px;width:1px;top:622px;height:218px;background:#000;"></div>
<div id="e268" class="t n" style="right:383px;top:834px;font-size:11px;line-height:11px;">0</div>
<div id="e269" class="t n" style="right:382px;top:812px;font-size:11px;line-height:11px;">10</div>
<div id="e270" class="t n" style="right:382px;top:791px;font-size:11px;line-height:11px;">20</div>
<div id="e271" class="t n" style="right:382px;top:769px;font-size:11px;line-height:11px;">30</div>
<div id="e272" class="t n" style="right:382px;top:747px;font-size:11px;line-height:11px;">40</div>
<div id="e273" class="t n" style="right:382px;top:725px;font-size:11px;line-height:11px;">50</div>
<div id="e274" class="t n" style="right:382px;top:704px;font-size:11px;line-height:11px;">60</div>
<div id="e275" class="t n" style="right:382px;top:682px;font-size:11px;line-height:11px;">70</div>
<div id="e276" class="t n" style="right:382px;top:660px;font-size:11px;line-height:11px;">80</div>
<div id="e277" class="t n" style="right:382px;top:639px;font-size:11px;line-height:11px;">90</div>
<div id="e278" class="t n" style="right:383px;top:617px;font-size:11px;line-height:11px;">100</div>
<div class="bx" style="left:319px;top:806px;width:35px;height:34px;background:#2f5dff;border-color:#000;"></div>
<div class="bx" style="left:319px;top:652px;width:35px;height:154px;background:#96c600;border-color:#000;"></div>
<div class="bx" style="left:319px;top:622px;width:35px;height:30px;background:#ff0000;border-color:#000;"></div>
<div class="bx" style="left:368px;top:806px;width:35px;height:34px;background:#2f5dff;border-color:#000;"></div>
<div class="bx" style="left:368px;top:651px;width:35px;height:155px;background:#96c600;border-color:#000;"></div>
<div class="bx" style="left:368px;top:622px;width:35px;height:29px;background:#ff0000;border-color:#000;"></div>
<div class="bx" style="left:417px;top:805px;width:35px;height:35px;background:#2f5dff;border-color:#000;"></div>
<div class="bx" style="left:417px;top:647px;width:35px;height:158px;background:#96c600;border-color:#000;"></div>
<div class="bx" style="left:417px;top:622px;width:35px;height:25px;background:#ff0000;border-color:#000;"></div>
<div class="bx" style="left:466px;top:806px;width:35px;height:34px;background:#2f5dff;border-color:#000;"></div>
<div class="bx" style="left:466px;top:650px;width:35px;height:156px;background:#96c600;border-color:#000;"></div>
<div class="bx" style="left:466px;top:622px;width:35px;height:28px;background:#ff0000;border-color:#000;"></div>
<div class="bx" style="left:516px;top:804px;width:35px;height:36px;background:#2f5dff;border-color:#000;"></div>
<div class="bx" style="left:516px;top:653px;width:35px;height:151px;background:#96c600;border-color:#000;"></div>
<div class="bx" style="left:516px;top:622px;width:35px;height:31px;background:#ff0000;border-color:#000;"></div>
<div class="bx" style="left:565px;top:806px;width:35px;height:34px;background:#2f5dff;border-color:#000;"></div>
<div class="bx" style="left:565px;top:653px;width:35px;height:153px;background:#96c600;border-color:#000;"></div>
<div class="bx" style="left:565px;top:622px;width:35px;height:31px;background:#ff0000;border-color:#000;"></div>
<div class="bx" style="left:614px;top:810px;width:35px;height:30px;background:#2f5dff;border-color:#000;"></div>
<div class="bx" style="left:614px;top:658px;width:35px;height:152px;background:#96c600;border-color:#000;"></div>
<div class="bx" style="left:614px;top:622px;width:35px;height:36px;background:#ff0000;border-color:#000;"></div>
<div class="ln" style="left:312px;width:1px;top:839px;height:4px;background:#000;"></div>
<div class="ln" style="left:361px;width:1px;top:839px;height:4px;background:#000;"></div>
<div class="ln" style="left:410px;width:1px;top:839px;height:4px;background:#000;"></div>
<div class="ln" style="left:459px;width:1px;top:839px;height:4px;background:#000;"></div>
<div class="ln" style="left:509px;width:1px;top:839px;height:4px;background:#000;"></div>
<div class="ln" style="left:558px;width:1px;top:839px;height:4px;background:#000;"></div>
<div class="ln" style="left:607px;width:1px;top:839px;height:4px;background:#000;"></div>
<div class="ln" style="left:656px;width:1px;top:839px;height:4px;background:#000;"></div>
<div class="bx" style="left:332px;top:930px;width:300px;height:18px;background:#fff;border-color:#000;"></div>
<div class="bx" style="left:359px;top:936px;width:8px;height:8px;background:#2f5dff;border-color:#000;"></div>
<div class="bx" style="left:447px;top:936px;width:8px;height:8px;background:#96c600;border-color:#000;"></div>
<div class="bx" style="left:542px;top:936px;width:8px;height:8px;background:#ff0000;border-color:#000;"></div>
<div id="e279" class="t b" style="left:369px;top:934px;font-size:12px;line-height:12px;">0-14</div>
<div id="e280" class="t b" style="left:458px;top:934px;font-size:12px;line-height:12px;">15-64</div>
<div id="e281" class="t b" style="left:552px;top:934px;font-size:12px;line-height:12px;word-spacing:2px;">65 y más</div>
<div style="position:absolute;left:335.07142857142856px;top:847px;width:0;height:0;"><div style="position:absolute;left:0;top:0;transform-origin:0 0;transform:rotate(-90deg) translate(-100%,-50%);white-space:nowrap;font-weight:bold;font-size:11px;line-height:11px;letter-spacing:0.17px;">L'Horta Nord</div></div>
<div style="position:absolute;left:384.2142857142857px;top:847px;width:0;height:0;"><div style="position:absolute;left:0;top:0;transform-origin:0 0;transform:rotate(-90deg) translate(-100%,-50%);white-space:nowrap;font-weight:bold;font-size:11px;line-height:11px;letter-spacing:0.49px;">Massamagrell</div></div>
<div style="position:absolute;left:183.35714285714283px;top:847px;width:0;height:0;"><div style="position:absolute;left:250px;top:0;transform-origin:0 0;transform:rotate(-90deg) translate(-100%,-50%);white-space:nowrap;font-weight:bold;font-size:11px;line-height:13px;text-align:center;letter-spacing:0.26px;">Pobla de<br>Farnals</div></div>
<div style="position:absolute;left:482.5px;top:847px;width:0;height:0;"><div style="position:absolute;left:0;top:0;transform-origin:0 0;transform:rotate(-90deg) translate(-100%,-50%);white-space:nowrap;font-weight:bold;font-size:11px;line-height:11px;letter-spacing:0.3px;">Puig</div></div>
<div style="position:absolute;left:531.6428571428571px;top:847px;width:0;height:0;"><div style="position:absolute;left:0;top:0;transform-origin:0 0;transform:rotate(-90deg) translate(-100%,-50%);white-space:nowrap;font-weight:bold;font-size:11px;line-height:11px;letter-spacing:0.4px;">Puçol</div></div>
<div style="position:absolute;left:580.7857142857143px;top:847px;width:0;height:0;"><div style="position:absolute;left:0;top:0;transform-origin:0 0;transform:rotate(-90deg) translate(-100%,-50%);white-space:nowrap;font-weight:bold;font-size:11px;line-height:11px;letter-spacing:0.2px;">Rafelbunyol</div></div>
<div style="position:absolute;left:629.9285714285714px;top:847px;width:0;height:0;"><div style="position:absolute;left:0;top:0;transform-origin:0 0;transform:rotate(-90deg) translate(-100%,-50%);white-space:nowrap;font-weight:bold;font-size:11px;line-height:11px;letter-spacing:0.2px;">Valencia</div></div>
</body></html>
